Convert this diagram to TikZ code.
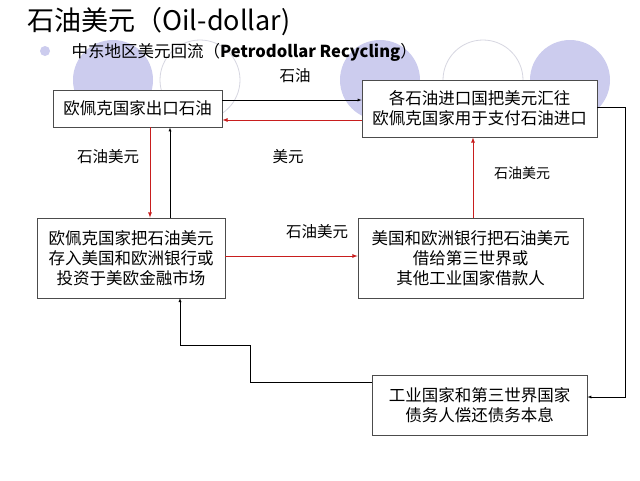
\documentclass[tikz,border=0pt]{standalone}
\usepackage{fontspec}
\setmainfont{Noto Sans CJK SC}
\usepackage{xcolor}
\definecolor{lav}{RGB}{204, 204, 238}
\definecolor{lavline}{RGB}{215, 215, 225}
\definecolor{flow}{RGB}{200, 30, 30}
\tikzset{box/.style={draw=black!70, thick, fill=white, align=center, font=\fontsize{16.5}{20}\selectfont, inner sep=2pt},
  lab/.style={font=\fontsize{15.5}{17}\selectfont}}
\begin{document}
\begin{tikzpicture}[x=1pt, y=-1pt, >=latex]
      \useasboundingbox[fill=white] (0, 0) rectangle (640, 480);
      \fill[lav] (113, 80) circle (40);
      \draw[lavline, thick] (200, 80) circle (40);
      \fill[lav] (380, 80) circle (40);
      \draw[lavline, thick] (483, 80) circle (40);
      \fill[lav] (570, 80) circle (40);
      \node[anchor=west, font=\fontsize{27}{29}\selectfont] (title) at (24, 22) {石油美元（Oil-dollar)};
      \fill[lav] (45, 51) circle (5);
      \node[anchor=west, font=\fontsize{16.5}{18}\selectfont] (sub) at (68, 52) {中东地区美元回流（\textbf{Petrodollar Recycling}）};
      \node[box, minimum width=169, minimum height=37] (a) at (137.5, 108.5) {欧佩克国家出口石油};
      \node[box, minimum width=235, minimum height=57] (b) at (479.5, 108.5) {各石油进口国把美元汇往\\欧佩克国家用于支付石油进口};
      \node[box, minimum width=188, minimum height=80] (c) at (131, 258) {欧佩克国家把石油美元\\存入美国和欧洲银行或\\投资于美欧金融市场};
      \node[box, minimum width=225, minimum height=80] (d) at (470.5, 258) {美国和欧洲银行把石油美元\\借给第三世界或\\其他工业国家借款人};
      \node[box, minimum width=215, minimum height=60] (e) at (479.5, 405) {工业国家和第三世界国家\\债务人偿还债务本息};
      \node[lab] (l1) at (295, 76) {石油};
      \node[lab] (l2) at (108, 157) {石油美元};
      \node[lab] (l3) at (288, 157) {美元};
      \node[lab, font=\fontsize{14}{16}\selectfont] (l4) at (522, 173) {石油美元};
      \node[lab] (l5) at (317, 232) {石油美元};
      \draw[->] (a.east |- 0, 100) -- (b.west |- 0, 100);
      \draw[->, flow, thick] (b.west |- 0, 120) -- (a.east |- 0, 120);
      \draw[->, flow, thick] (150, 127) -- (c.north -| 150, 0);
      \draw[->] (170, 218) -- (a.south -| 170, 0);
      \draw[->, flow, thick] (d.north -| 473, 0) -- (b.south -| 473, 0);
      \draw[->, flow, thick] (c.east |- 0, 256) -- (d.west |- 0, 256);
      \draw[->] (b.east |- 0, 107) -| (625, 397) -- (e.east |- 0, 397);
      \draw[->] (e.west |- 0, 382) -| (250, 345) -| (180, 298);
\end{tikzpicture}
\end{document}
